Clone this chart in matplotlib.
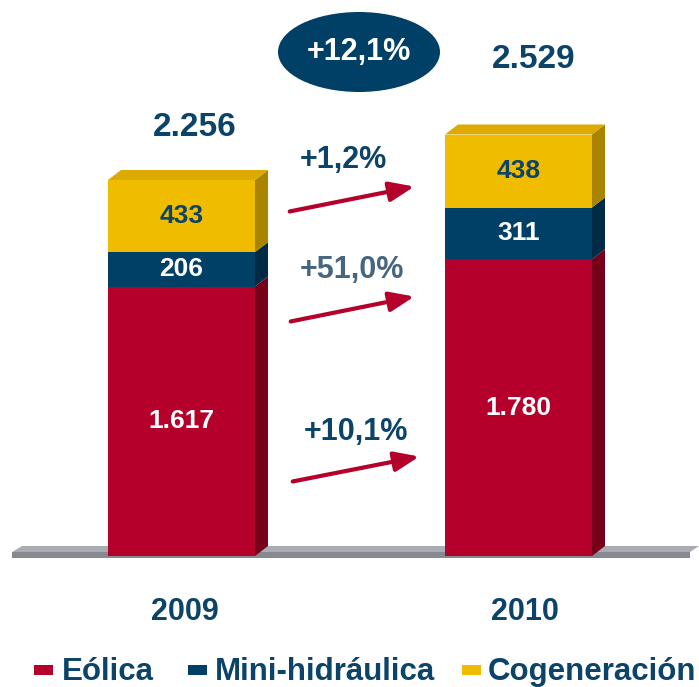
import matplotlib.pyplot as plt
from matplotlib.patches import Polygon, Ellipse, Rectangle

years = ["2009", "2010"]
eolica = [1617, 1780]
mini_hidraulica = [206, 311]
cogeneracion = [433, 438]
totals = ["2.256", "2.529"]
seg_labels = [["1.617", "1.780"], ["206", "311"], ["433", "438"]]
growth = ["+10,1%", "+51,0%", "+1,2%"]
total_growth = "+12,1%"

RED, RED_S = "#B4002A", "#760019"
BLUE, BLUE_S = "#003F66", "#002B47"
YEL, YEL_S, YEL_T = "#F0BC00", "#A88400", "#DCAA00"
NAVY = "#0B4468"

plt.rcParams["font.family"] = ["Liberation Sans", "DejaVu Sans"]
plt.rcParams["font.weight"] = "bold"

fig = plt.figure(figsize=(6.99, 6.87), dpi=100)
ax = fig.add_axes([0, 0, 1, 1])
ax.set_xlim(0, 699)
ax.set_ylim(-786, 3336)
ax.axis("off")


def py(y):
    # pixel row -> value units (6 units per pixel, baseline at row 556)
    return (556 - y) * 6


xs = [181.5, 518.5]
w = 147
dx, dy = 13, 60

# floor slab
ax.add_patch(Polygon([(22, py(546)), (699, py(546)), (690, py(552)), (12, py(552))],
                     closed=True, fc="#A9ADB3", ec="none"))
ax.add_patch(Polygon([(12, py(552)), (690, py(552)), (690, py(558)), (12, py(558))],
                     closed=True, fc="#868A90", ec="none"))

series = [(eolica, RED, RED_S), (mini_hidraulica, BLUE, BLUE_S), (cogeneracion, YEL, YEL_S)]
bottoms = [0, 0]
for si, (vals, fc, sc) in enumerate(series):
    ax.bar(xs, vals, width=w, bottom=bottoms, color=fc, zorder=3)
    for i, x in enumerate(xs):
        b, t = bottoms[i], bottoms[i] + vals[i]
        r = x + w / 2
        ax.add_patch(Polygon([(r, b), (r + dx, b + dy), (r + dx, t + dy), (r, t)],
                             closed=True, fc=sc, ec="none", zorder=3))
        tc = NAVY if si == 2 else "white"
        ax.text(x, b + vals[i] / 2, seg_labels[si][i], ha="center", va="center",
                fontsize=19, color=tc, zorder=4)
    bottoms = [bottoms[i] + vals[i] for i in range(2)]

# top faces
for i, x in enumerate(xs):
    t = bottoms[i]
    l, r = x - w / 2, x + w / 2
    ax.add_patch(Polygon([(l, t), (l + dx, t + dy), (r + dx, t + dy), (r, t)],
                         closed=True, fc=YEL_T, ec="none", zorder=3))

# totals
ax.text(195, py(127), totals[0], ha="center", va="center", fontsize=24, color=NAVY)
ax.text(534, py(60), totals[1], ha="center", va="center", fontsize=24, color=NAVY)

# overall growth ellipse
ax.add_patch(Ellipse((359, py(52)), 162, 80 * 6, fc="#003F66", ec="none"))
ax.text(359, py(52), total_growth, ha="center", va="center", fontsize=22, color="white")

# growth arrows
arrows = [((290, 482), (422, 456), (356, 432), NAVY),
          ((288, 322), (417, 296), (352, 270), "#46657E"),
          ((287, 212), (417, 186), (343, 160), NAVY)]
for (p0, p1, lp, lc), g in zip(arrows, growth):
    ax.annotate("", xy=(p1[0], py(p1[1])), xytext=(p0[0], py(p0[1])),
                arrowprops=dict(arrowstyle="-|>,head_length=1.5,head_width=0.6",
                                color=RED, lw=3))
    ax.text(lp[0], py(lp[1]), g, ha="center", va="center", fontsize=22, color=lc)

# year labels
ax.text(185, py(612), years[0], ha="center", va="center", fontsize=22, color=NAVY)
ax.text(525, py(612), years[1], ha="center", va="center", fontsize=22, color=NAVY)

# legend
legend = [("Eólica", RED, 34, 62), ("Mini-hidráulica", BLUE, 188, 215), ("Cogeneración", YEL, 462, 488)]
for name, c, mx, tx in legend:
    ax.add_patch(Rectangle((mx, py(675)), 19, 10 * 6, fc=c, ec="none"))
    ax.text(tx, py(672), name, ha="left", va="center", fontsize=22.5, color=NAVY)

fig.savefig("out.png", dpi=100)
